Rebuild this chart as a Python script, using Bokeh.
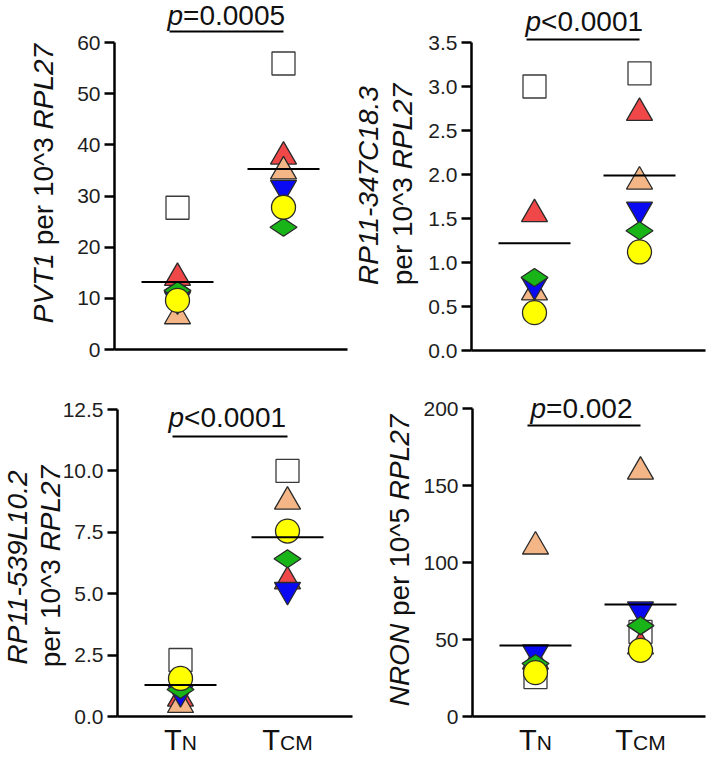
import math
from bokeh.plotting import figure
from bokeh.models import FixedTicker, PrintfTickFormatter, Range1d
from bokeh.core.properties import value
from bokeh.layouts import column, row
from bokeh.embed import file_html
from bokeh.resources import INLINE

# ---------------- data ----------------
categories = ["TN", "TCM"]
cat_main = ["T", "T"]
cat_sub = ["N", "CM"]

# PVT1 per 10^3 RPL27
pvt1_square = [27.7, 55.9]
pvt1_red = [14.0, 37.7]
pvt1_tan = [6.5, 34.8]
pvt1_blue = [9.8, 31.6]
pvt1_green = [11.5, 23.9]
pvt1_yellow = [9.6, 27.8]
pvt1_mean = [13.2, 35.3]
pvt1_ticks = [0, 10, 20, 30, 40, 50, 60]
pvt1_p = ["p", "=0.0005"]

# RP11-347C18.3 per 10^3 RPL27
rp347_square = [3.00, 3.15]
rp347_red = [1.55, 2.70]
rp347_tan = [0.66, 1.92]
rp347_blue = [0.745, 1.60]
rp347_green = [0.83, 1.36]
rp347_yellow = [0.43, 1.12]
rp347_mean = [1.22, 1.99]
rp347_ticks = [0.0, 0.5, 1.0, 1.5, 2.0, 2.5, 3.0, 3.5]
rp347_p = ["p", "<0.0001"]

# RP11-539L10.2 per 10^3 RPL27
rp539_square = [2.30, 10.0]
rp539_red = [0.73, 5.5]
rp539_tan = [0.47, 8.75]
rp539_blue = [0.99, 5.15]
rp539_green = [1.10, 6.42]
rp539_yellow = [1.55, 7.55]
rp539_mean = [1.28, 7.3]
rp539_ticks = [0.0, 2.5, 5.0, 7.5, 10.0, 12.5]
rp539_p = ["p", "<0.0001"]

# NRON per 10^5 RPL27
nron_square = [25.6, 54.9]
nron_red = [35.7, 45.5]
nron_tan = [110.4, 159.0]
nron_blue = [41.6, 69.5]
nron_green = [34.4, 59.0]
nron_yellow = [28.5, 43.0]
nron_mean = [46.1, 72.7]
nron_ticks = [0, 50, 100, 150, 200]
nron_p = ["p", "=0.002"]

# ---------------- styling helpers ----------------
FONT = "Liberation Sans"
TXT = "#111111"
BASE_FIX = 0.37  # em; compensates the renderer's baseline shift
AW = {'P': 667, 'V': 667, 'T': 611, '1': 556, ' ': 278, 'p': 556, 'e': 556, 'r': 333,
      '0': 556, '^': 469, '3': 556, 'R': 722, 'L': 556, '2': 556, '7': 556, 'C': 722,
      '-': 333, '.': 278, '8': 556, '4': 556, '5': 556, '9': 556, 'N': 722, 'O': 778,
      '=': 584, '<': 584, 'M': 833}


def tw(s, fs):
    return sum(AW.get(c, 556) for c in s) / 1000.0 * fs


series_style = [
    ("square", "square", "white", "#3a3a3a", 23, 0.0),
    ("red", "triangle", "#F04848", "#2a2a2a", 26, 0.0),
    ("tan", "triangle", "#F4B686", "#2a2a2a", 26, 0.0),
    ("blue", "inverted_triangle", "#0A0AF2", "#2a2a2a", 26, 0.0),
    ("green", "diamond", "#18B418", "#2a2a2a", 27, math.pi / 2),
    ("yellow", "circle", "#FFFF00", "#2a2a2a", 24, 0.0),
]

panels = [
    dict(series=dict(square=pvt1_square, red=pvt1_red, tan=pvt1_tan, blue=pvt1_blue,
                     green=pvt1_green, yellow=pvt1_yellow),
         mean=pvt1_mean, ticks=pvt1_ticks, fmt="%d", pv=pvt1_p,
         ylab=[[("PVT1", "italic"), (" per 10^3 ", "normal"), ("RPL27", "italic")]],
         ylab_x=[53], ylab_cy=183,
         ox=0, oy=0, W=350, H=365, fl=114, fr=347, fb=349, tn=177, tcm=283, ytop_px=42,
         p_start=167, p_base=25, bar_py=31, xlab=False),
    dict(series=dict(square=rp347_square, red=rp347_red, tan=rp347_tan, blue=rp347_blue,
                     green=rp347_green, yellow=rp347_yellow),
         mean=rp347_mean, ticks=rp347_ticks, fmt="%.1f", pv=rp347_p,
         ylab=[[("RP11-347C18.3", "italic")], [("per 10^3 ", "normal"), ("RPL27", "italic")]],
         ylab_x=[378, 412], ylab_cy=184,
         ox=350, oy=0, W=364, H=365, fl=471, fr=705, fb=350, tn=534, tcm=639, ytop_px=42,
         p_start=525, p_base=31, bar_py=39, xlab=False),
    dict(series=dict(square=rp539_square, red=rp539_red, tan=rp539_tan, blue=rp539_blue,
                     green=rp539_green, yellow=rp539_yellow),
         mean=rp539_mean, ticks=rp539_ticks, fmt="%.1f", pv=rp539_p,
         ylab=[[("RP11-539L10.2", "italic")], [("per 10^3 ", "normal"), ("RPL27", "italic")]],
         ylab_x=[27, 60], ylab_cy=566,
         ox=0, oy=365, W=354, H=392, fl=117, fr=352, fb=716, tn=180, tcm=287, ytop_px=409,
         p_start=168, p_base=427, bar_py=436, xlab=True),
    dict(series=dict(square=nron_square, red=nron_red, tan=nron_tan, blue=nron_blue,
                     green=nron_green, yellow=nron_yellow),
         mean=nron_mean, ticks=nron_ticks, fmt="%d", pv=nron_p,
         ylab=[[("NRON", "italic"), (" per 10^5 ", "normal"), ("RPL27", "italic")]],
         ylab_x=[409], ylab_cy=560,
         ox=354, oy=365, W=360, H=392, fl=472, fr=705, fb=716, tn=535, tcm=640, ytop_px=408,
         p_start=530, p_base=418, bar_py=425, xlab=True),
]


def make_panel(g):
    top_val = g["ticks"][-1]
    unit = g["tcm"] - g["tn"]

    def X(px):
        return 1 + (px - g["tn"]) / unit

    def Y(py):
        return top_val * (g["fb"] - py) / (g["fb"] - g["ytop_px"])

    p = figure(width=g["W"], height=g["H"], output_backend="svg", toolbar_location=None,
               x_range=Range1d(X(g["ox"]), X(g["ox"] + g["W"])),
               y_range=Range1d(Y(g["oy"] + g["H"]), Y(g["oy"])),
               min_border_left=0, min_border_right=0, min_border_top=0, min_border_bottom=0)
    p.outline_line_color = None
    p.grid.visible = False
    p.background_fill_color = "white"
    p.border_fill_color = "white"

    def add_text(px, py, s, size, style="normal", align="left", vertical=False):
        fix = BASE_FIX * size
        if vertical:
            px = px - fix
        else:
            py = py - fix
        p.text(x=[X(px)], y=[Y(py)], text=[s], angle=(math.pi / 2 if vertical else 0.0),
               text_font=value(FONT), text_font_size=value("%gpx" % size),
               text_font_style=value(style), text_align=value(align),
               text_baseline=value("alphabetic"), text_color=TXT)

    # y axis placed inside the frame at the reference location
    ya = p.yaxis[0]
    ya.fixed_location = X(g["fl"])
    ya.ticker = FixedTicker(ticks=g["ticks"])
    ya.formatter = PrintfTickFormatter(format=g["fmt"])
    ya.bounds = (0, top_val)
    ya.axis_line_width = 2.5
    ya.axis_line_color = "black"
    ya.major_tick_line_width = 2.5
    ya.major_tick_line_color = "black"
    ya.major_tick_out = 10
    ya.major_tick_in = 0
    ya.minor_tick_line_color = None
    ya.major_label_standoff = 4
    ya.major_label_text_font = FONT
    ya.major_label_text_font_size = "21px"
    ya.major_label_text_color = "#1e1e1e"

    # x axis (line only) at y = 0
    xa = p.xaxis[0]
    xa.fixed_location = 0
    xa.bounds = (X(g["fl"]), X(g["fr"]))
    xa.ticker = FixedTicker(ticks=[])
    xa.axis_line_width = 2.5
    xa.axis_line_color = "black"
    xa.major_tick_line_color = None
    xa.minor_tick_line_color = None
    xa.major_label_text_font_size = "0px"

    xs = [i + 1 for i in range(len(categories))]

    # markers
    for name, marker, fill, line, size, ang in series_style:
        p.scatter(x=xs, y=g["series"][name], marker=marker, size=size, angle=ang,
                  fill_color=fill, line_color=line, line_width=1.3)

    # mean lines
    hw = 36.0 / unit
    p.segment(x0=[x - hw for x in xs], x1=[x + hw for x in xs], y0=g["mean"], y1=g["mean"],
              line_color="black", line_width=2)

    # significance bar and p value
    by = Y(g["bar_py"])
    p.segment(x0=[xs[0] - 8.0 / unit], x1=[xs[1]], y0=[by], y1=[by],
              line_color="black", line_width=2)
    split = g["p_start"] + tw(g["pv"][0], 28)
    add_text(split, g["p_base"], g["pv"][0], 28, "italic", "right")
    add_text(split, g["p_base"], g["pv"][1], 28, "normal", "left")

    # y axis label (rotated, mixed italic; reads bottom to top)
    for line_pieces, bx in zip(g["ylab"], g["ylab_x"]):
        total = sum(tw(s, 28) for s, _ in line_pieces)
        pos = g["ylab_cy"] + total / 2.0
        for s, style in line_pieces:
            lead = len(s) - len(s.lstrip(" "))
            start = pos - tw(" " * lead, 28)
            add_text(bx, start, s.strip(" "), 28, style, "left", vertical=True)
            pos -= tw(s, 28)

    # category labels
    if g["xlab"]:
        for xi, (mn, sb) in enumerate(zip(cat_main, cat_sub)):
            cx = g["tn"] + xi * unit
            wtot = tw(mn, 29) + tw(sb, 21)
            start = cx - wtot / 2.0
            base = 750
            add_text(start, base, mn, 29)
            add_text(start + tw(mn, 29), base, sb, 21)
    return p


p1, p2, p3, p4 = [make_panel(g) for g in panels]

layout = column(row(p1, p2), row(p3, p4))
open("out.html", "w").write(file_html(layout, INLINE))
